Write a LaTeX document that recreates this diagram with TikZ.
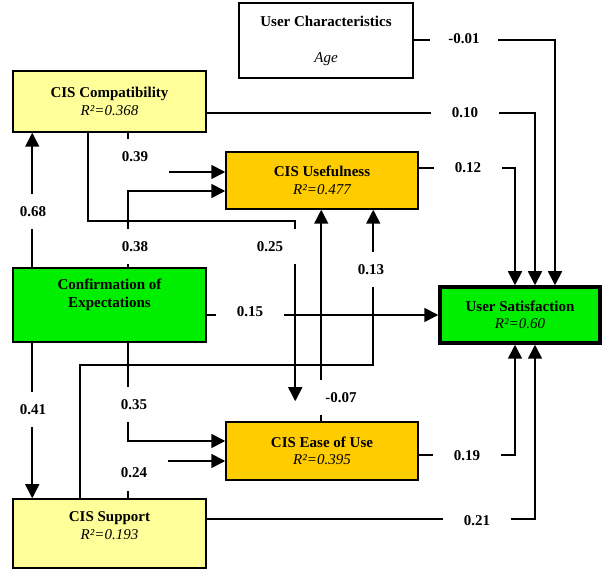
\documentclass[tikz,border=0pt]{standalone}
\usepackage{fontspec}
\setmainfont{Liberation Serif}
\usetikzlibrary{arrows.meta,calc}
\definecolor{lightyellow}{HTML}{FFFF99}
\definecolor{amber}{HTML}{FFCC00}
\definecolor{brightgreen}{RGB}{0,238,0}

\begin{document}
\begin{tikzpicture}
			[
				x=1pt, y=-1pt,
				align=center,
				construct/.style={draw, line width=1.5pt, inner sep=0pt, font=\fontsize{15}{17.5}\selectfont\bfseries},
				coef/.style={fill=white, inner sep=0pt, minimum width=68pt, minimum height=35pt, font=\fontsize{15}{17.5}\selectfont\bfseries},
				arrow/.style={-{Triangle[length=14pt,width=14pt]}, line width=1.6pt}
			]
			\useasboundingbox (0,0) rectangle (603,569);

			% constructs
			\node[construct,fill=white,minimum width=174pt,minimum height=75pt] (uc) at ( 326.0,  40.5 ) {User Characteristics\\[18.5pt]{\mdseries\itshape Age}};
			\node[construct,fill=lightyellow,minimum width=193pt,minimum height=61pt] (comp) at ( 109.5, 101.5 ) {CIS Compatibility\\{\mdseries\itshape R²=0.368}};
			\node[construct,fill=amber,minimum width=192pt,minimum height=57pt] (usef) at ( 322.0, 180.5 ) {CIS Usefulness\\{\mdseries\itshape R²=0.477}};
			\node[construct,fill=brightgreen,minimum width=193pt,minimum height=74pt,text depth=24pt] (conf) at ( 109.5, 305.0 ) {Confirmation of\\Expectations};
			\node[construct,fill=brightgreen,minimum width=160pt,minimum height=56pt,line width=3.5pt] (sat) at ( 520.0, 315.0 ) {User Satisfaction\\{\mdseries\itshape R²=0.60}};
			\node[construct,fill=amber,minimum width=192pt,minimum height=58pt] (ease) at ( 322.0, 451.0 ) {CIS Ease of Use\\{\mdseries\itshape R²=0.395}};
			\node[construct,fill=lightyellow,minimum width=193pt,minimum height=69pt,text depth=16pt] (supp) at ( 109.5, 533.5 ) {CIS Support\\{\mdseries\itshape R²=0.193}};

			% paths
			\foreach \from/\dy/\dx in {uc/-0.5/35,comp/11.5/15,usef/-12.5/-5}
			\draw[arrow] ($(\from.east)+(0,\dy)$) -| ($(sat.north)+(\dx,0)$);
			\foreach \from/\dy/\dx in {ease/4/-5,supp/-14.5/15}
			\draw[arrow] ($(\from.east)+(0,\dy)$) -| ($(sat.south)+(\dx,0)$);

			\draw[arrow] (sat.west -| conf.east) -- (sat.west);
			\draw[arrow] ($(conf.north west)+(20,0)$) -- ($(comp.south west)+(20,0)$);
			\draw[arrow] ($(conf.south west)+(20,0)$) -- ($(supp.north west)+(20,0)$);
			\draw[arrow] ($(comp.south west)+(116,0)$) |- ($(usef.west)+(0,-8.5)$);
			\draw[arrow] ($(conf.north west)+(116,0)$) |- ($(usef.west)+(0,10.5)$);
			\draw[arrow] ($(conf.south west)+(116,0)$) |- ($(ease.west)+(0,-10)$);
			\draw[arrow] ($(supp.north west)+(116,0)$) |- ($(ease.west)+(0,10)$);
			\draw[arrow] ($(comp.south west)+(76,0)$) |- ($(ease.north west)+(70,-200)$) -- ($(ease.north west)+(70,-20)$);
			\draw[arrow] ($(ease.north west)+(96,0)$) -- ($(usef.south west)+(96,0)$);
			\draw[arrow] ($(supp.north west)+(68,0)$) |- ($(usef.south west)+(148,155)$) -- ($(usef.south west)+(148,0)$);

			% path coefficients
			\node[coef] (ucsat) at ( 464, 39 ) {-0.01};
			\node[coef] (compsat) at ( 465, 113 ) {0.10};
			\node[coef] (usefsat) at ( 468, 168 ) {0.12};
			\node[coef] (confsat) at ( 250, 312 ) {0.15};
			\node[coef] (easesat) at ( 467, 456 ) {0.19};
			\node[coef] (suppsat) at ( 477, 521 ) {0.21};
			\node[coef] (confcomp) at ( 33, 212 ) {0.68};
			\node[coef] (confsupp) at ( 33, 410 ) {0.41};
			\node[coef] (confusef) at ( 135, 247 ) {0.38};
			\node[coef] (compusef) at ( 135, 157 ) {0.39};
			\node[coef] (confease) at ( 134, 405 ) {0.35};
			\node[coef] (suppease) at ( 134, 473 ) {0.24};
			\node[coef] (compease) at ( 270, 247 ) {0.25};
			\node[coef] (easeusef) at ( 341, 398 ) {-0.07};
			\node[coef] (suppusef) at ( 371, 270 ) {0.13};

		\end{tikzpicture}
\end{document}
